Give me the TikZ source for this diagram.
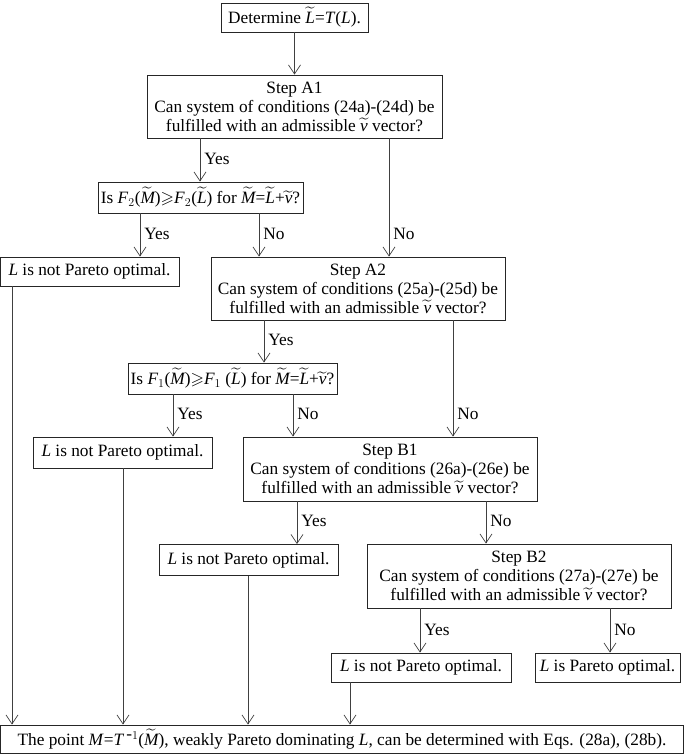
\documentclass[tikz,border=0pt]{standalone}
\usepackage{amssymb}
\usepackage{fontspec}
\setmainfont{Liberation Serif}
\usetikzlibrary{arrows.meta,positioning}
\newcommand{\tl}[1]{$\widetilde{\mbox{\itshape #1}}$}
\newcommand{\iv}[1]{\textit{#1}}
\tikzset{
  box/.style={ % plain one-line box
    draw=black!85, line width=0.9pt, rectangle, align=center,
    inner sep=2pt, minimum height=29pt
  },
  stepbox/.style={ % three-line question box
    box, minimum height=63pt
  },
  arr/.style={
    black!75, line width=0.7pt, -{Straight Barb[length=9pt,width=12pt]}
  },
  lbl/.style={ % Yes / No beside an arrow
    anchor=west, inner sep=0pt, xshift=4pt, yshift=23pt, text=black
  }
}
\begin{document}
\begin{tikzpicture}[x=1pt, y=-1pt, font=\fontsize{17.3}{19}\selectfont]
    \useasboundingbox (0,0) rectangle (685,754);

    \node[box, minimum width=147pt] (det) at (294.5,17.5) {Determine \tl{L}=\iv{T}(\iv{L}).};
    \node[stepbox, minimum width=295pt] (A1) at (294.5,106.5)
      {Step A1\\Can system of conditions (24a)-(24d) be\\fulfilled with an admissible \tl{v} vector?};
    \node[box, minimum width=205pt, minimum height=31pt] (F2) at (200.5,197.5)
      {Is \iv{F}$_2$(\tl{M})$\geqslant$\iv{F}$_2$(\tl{L}) for \tl{M}=\tl{L}+\tl{v}?};
    \node[box, minimum width=179pt] (np1) at (89.5,271.5) {\iv{L} is not Pareto optimal.};
    \node[stepbox, minimum width=294pt] (A2) at (358,288.5)
      {Step A2\\Can system of conditions (25a)-(25d) be\\fulfilled with an admissible \tl{v} vector?};
    \node[box, minimum width=209pt, minimum height=31pt] (F1) at (232.5,378.5)
      {Is \iv{F}$_1$(\tl{M})$\geqslant$\iv{F}$_1$ (\tl{L}) for \tl{M}=\tl{L}+\tl{v}?};
    \node[box, minimum width=179pt, minimum height=31pt] (np2) at (122.5,452.5) {\iv{L} is not Pareto optimal.};
    \node[stepbox, minimum width=294pt, minimum height=64pt] (B1) at (390,469)
      {Step B1\\Can system of conditions (26a)-(26e) be\\fulfilled with an admissible \tl{v} vector?};
    \node[box, minimum width=179pt, minimum height=31pt] (np3) at (248.5,560) {\iv{L} is not Pareto optimal.};
    \node[stepbox, minimum width=304pt, minimum height=64pt] (B2) at (519,576)
      {Step B2\\Can system of conditions (27a)-(27e) be\\fulfilled with an admissible \tl{v} vector?};
    \node[box, minimum width=180pt] (np4) at (421,667.5) {\iv{L} is not Pareto optimal.};
    \node[box, minimum width=145pt] (po) at (607.5,667.5) {\iv{L} is Pareto optimal.};
    \node[box, minimum width=683pt, minimum height=28pt] (fin) at (342,739)
      {The point \iv{M}=\iv{T}$^{\,\mbox{-}1}$(\tl{M}), weakly Pareto dominating \iv{L}, can be determined with Eqs. (28a), (28b).};

    \draw[arr] (det) -- (A1);
    \draw[arr] (A1.south -| 200,0) -- node[lbl, at end] {Yes} (F2.north -| 200,0);
    \draw[arr] (A1.south -| 389,0) -- node[lbl, at end] {No} (A2.north -| 389,0);
    \draw[arr] (F2.south -| 140,0) -- node[lbl, at end] {Yes} (np1.north -| 140,0);
    \draw[arr] (F2.south -| 259,0) -- node[lbl, at end] {No} (A2.north -| 259,0);
    \draw[arr] (A2.south -| 264,0) -- node[lbl, at end] {Yes} (F1.north -| 264,0);
    \draw[arr] (A2.south -| 453,0) -- node[lbl, at end] {No} (B1.north -| 453,0);
    \draw[arr] (F1.south -| 173,0) -- node[lbl, at end] {Yes} (np2.north -| 173,0);
    \draw[arr] (F1.south -| 293,0) -- node[lbl, at end] {No} (B1.north -| 293,0);
    \draw[arr] (B1.south -| 297,0) -- node[lbl, at end] {Yes} (np3.north -| 297,0);
    \draw[arr] (B1.south -| 486,0) -- node[lbl, at end] {No} (B2.north -| 486,0);
    \draw[arr] (B2.south -| 420,0) -- node[lbl, at end] {Yes} (np4.north -| 420,0);
    \draw[arr] (B2.south -| 610,0) -- node[lbl, at end] {No} (po.north -| 610,0);

    \draw[arr] (np1.south -| 12,0) -- (fin.north -| 12,0);
    \draw[arr] (np2.south -| 123,0) -- (fin.north -| 123,0);
    \draw[arr] (np3.south -| 248,0) -- (fin.north -| 248,0);
    \draw[arr] (np4.south -| 350,0) -- (fin.north -| 350,0);
\end{tikzpicture}
\end{document}
